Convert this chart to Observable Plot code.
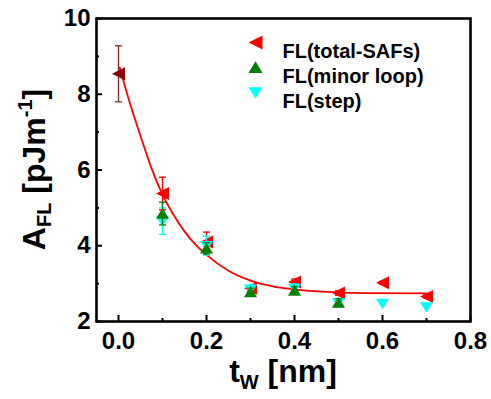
<!DOCTYPE html>
<html><head><meta charset="utf-8">
<script src="https://cdn.jsdelivr.net/npm/d3@7"></script>
<script src="https://cdn.jsdelivr.net/npm/@observablehq/plot@0.6"></script>
<style>body{margin:0;background:#fff}</style>
</head><body><div id="chart"></div>
<script>
// ---- data ----
const totalX = [0, 0.1, 0.2, 0.3, 0.4, 0.5, 0.6, 0.7];
const totalSAFs = [8.54, 5.38, 4.10, 2.88, 3.04, 2.75, 3.02, 2.66];
const totalErr = [0.74, 0.43, 0.26, 0.08, 0.08, 0.06, 0.04, 0.04];
const minorX = [0.1, 0.2, 0.3, 0.4, 0.5];
const minorLoop = [4.85, 3.93, 2.78, 2.82, 2.50];
const minorErr = [0.30, 0.15, 0.10, 0.10, 0.10];
const stepX = [0.1, 0.2, 0.3, 0.4, 0.5, 0.6, 0.7];
const step = [4.65, 4.00, 2.85, 2.87, 2.49, 2.47, 2.38];
const stepErr = [0.35, 0.25, 0.12, 0.12, 0.10, 0, 0];
const fitX = [0.003, 0.025, 0.05, 0.075, 0.1, 0.125, 0.15, 0.175, 0.2, 0.25, 0.3, 0.35, 0.4, 0.475, 0.55, 0.7];
const fitY = [8.70, 7.80, 6.90, 6.05, 5.35, 4.82, 4.38, 4.03, 3.76, 3.34, 3.08, 2.93, 2.85, 2.78, 2.75, 2.74];
const seriesNames = ["FL(total-SAFs)", "FL(minor loop)", "FL(step)"];
const seriesColors = ["#ff0000", "#008000", "#00ffff"];
const xTicks = [0, 0.2, 0.4, 0.6, 0.8];
const xMinor = [0.1, 0.3, 0.5, 0.7];
const yTicks = [2, 4, 6, 8, 10];
const yMinor = [3, 5, 7, 9];

const rows = (xs, ys, es) => xs.map((x, i) => ({x, y: ys[i], e: es[i]}));
const total = rows(totalX, totalSAFs, totalErr);
const minor = rows(minorX, minorLoop, minorErr);
const stp = rows(stepX, step, stepErr);
const fit = fitX.map((x, i) => ({x, y: fitY[i]}));

// ---- custom symbols ----
const rad = s => Math.sqrt(s / Math.PI);
const triLeft = {draw(c, s) { const r = rad(s); c.moveTo(-r, 0); c.lineTo(r, -r); c.lineTo(r, r); c.closePath(); }};
const triUp = {draw(c, s) { const r = rad(s); c.moveTo(0, -r * 0.9); c.lineTo(r, r * 0.8); c.lineTo(-r, r * 0.8); c.closePath(); }};
const triDown = {draw(c, s) { const r = rad(s); c.moveTo(0, r * 0.85); c.lineTo(r, -r * 0.75); c.lineTo(-r, -r * 0.75); c.closePath(); }};
const cap = {draw(c, s) { const r = rad(s); c.moveTo(-r, 0); c.lineTo(r, 0); }};

const errMarks = (data, color) => {
  const d = data.filter(r => r.e > 0);
  return [
    Plot.ruleX(d, {x: "x", y1: r => r.y - r.e, y2: r => r.y + r.e, stroke: color, strokeWidth: 1.3}),
    Plot.dot(d, {x: "x", y: r => r.y + r.e, symbol: cap, r: 3.5, stroke: color, strokeWidth: 1.3, fill: "none"}),
    Plot.dot(d, {x: "x", y: r => r.y - r.e, symbol: cap, r: 3.5, stroke: color, strokeWidth: 1.3, fill: "none"})
  ];
};

const font = "Liberation Sans, Arial, sans-serif";
const legendMarks = [triLeft, triUp, triDown].flatMap((sym, i) => [
  Plot.dot([seriesNames[i]], {frameAnchor: "top-left", dx: 159, dy: 24 + 25 * i, symbol: sym, r: 7, fill: seriesColors[i]}),
  Plot.text([seriesNames[i]], {frameAnchor: "top-left", dx: 186, dy: 25 + 25 * i, text: d => d, textAnchor: "start", fontSize: 20, fontWeight: "bold", fill: "#000"})
]);

const chart = Plot.plot({
  width: 491, height: 399,
  marginLeft: 96, marginRight: 21, marginTop: 18, marginBottom: 78,
  style: {fontFamily: font, background: "#fff", color: "#000"},
  x: {domain: [-0.05, 0.8]},
  y: {domain: [2, 10]},
  marks: [
    Plot.line(fit, {x: "x", y: "y", stroke: "#ff0000", strokeWidth: 1.8, curve: "monotone-x"}),
    ...errMarks(total.slice(1), "#ff0000"),
    ...errMarks(total.slice(0, 1), "#8b2020"),
    Plot.dot(total, {x: "x", y: "y", filter: (d, i) => i > 0, symbol: triLeft, r: 6.5, fill: "#ff0000"}),
    Plot.dot(total, {x: "x", y: "y", filter: (d, i) => i === 0, symbol: triLeft, r: 6.5, fill: "#8b0000"}),
    ...errMarks(stp, "#00ffff"),
    Plot.dot(stp, {x: "x", y: "y", symbol: triDown, r: 6.5, fill: "#00ffff"}),
    ...errMarks(minor, "#008000"),
    Plot.dot(minor, {x: "x", y: "y", symbol: triUp, r: 6.5, fill: "#008000"}),
    ...legendMarks,
    Plot.axisX(xTicks, {tickSize: -6, strokeWidth: 2, tickFormat: () => "", label: null}),
    Plot.axisX(xMinor, {tickSize: -3, strokeWidth: 2, tickFormat: () => "", label: null}),
    Plot.axisX(xTicks, {tickSize: 0, tickPadding: 10, tickFormat: d3.format(".1f"), fontSize: 24, fontWeight: "bold", fill: "#000", label: null}),
    Plot.axisY(yTicks, {tickSize: -6, strokeWidth: 2, tickFormat: () => "", label: null}),
    Plot.axisY(yMinor, {tickSize: -3, strokeWidth: 2, tickFormat: () => "", label: null}),
    Plot.axisY(yTicks, {tickSize: 0, tickPadding: 6, tickFormat: d3.format("d"), fontSize: 24, fontWeight: "bold", fill: "#000", label: null}),
    Plot.frame({stroke: "#000", strokeWidth: 2.6})
  ]
});
document.getElementById("chart").appendChild(chart);

// ---- axis titles with sub/superscripts ----
const svg = d3.select(chart);
const xs = chart.scale("x"), ys = chart.scale("y");
const yc = (ys.apply(ys.domain[0]) + ys.apply(ys.domain[1])) / 2;
const xc = (xs.apply(xs.domain[0]) + xs.apply(xs.domain[1])) / 2;
const yt = svg.append("text")
  .attr("transform", `translate(45,${yc}) rotate(-90)`)
  .attr("text-anchor", "middle").attr("font-family", font).attr("font-weight", "bold")
  .attr("font-size", 32).attr("fill", "#000");
yt.append("tspan").text("A");
yt.append("tspan").attr("font-size", 20).attr("dy", 6).text("FL");
yt.append("tspan").attr("dy", -6).text(" [pJm");
yt.append("tspan").attr("font-size", 20).attr("dy", -13).text("-1");
yt.append("tspan").attr("dy", 13).text("]");

const xt = svg.append("text")
  .attr("x", xc).attr("y", 382)
  .attr("text-anchor", "middle").attr("font-family", font).attr("font-weight", "bold")
  .attr("font-size", 32).attr("fill", "#000");
xt.append("tspan").text("t");
xt.append("tspan").attr("font-size", 20).attr("dy", 7).text("W");
xt.append("tspan").attr("dy", -7).text(" [nm]");
</script>
</body></html>
